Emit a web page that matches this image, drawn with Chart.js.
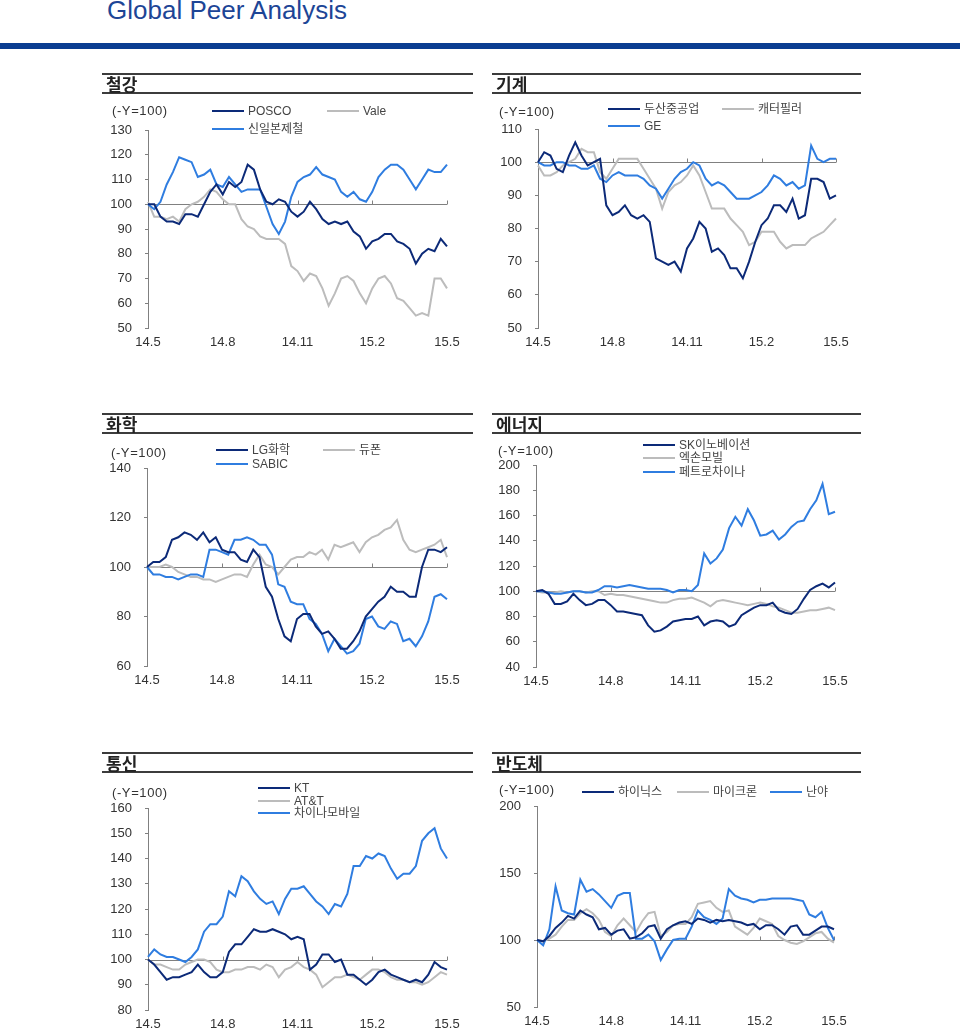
<!DOCTYPE html>
<html>
<head>
<meta charset="utf-8">
<script src="https://cdn.jsdelivr.net/npm/chart.js@4.4.0/dist/chart.umd.min.js"></script>
<style>
  body { margin: 0; width: 960px; height: 1031px; position: relative; background: #fff; overflow: hidden;
         font-family: 'Liberation Sans', 'Noto Sans CJK KR', sans-serif; color: #333; }
  .abs { position: absolute; white-space: nowrap; }
  #pageTitle { left: 107px; top: -3px; font-size: 26px; line-height: 26px; color: #1d4596; }
  #topBar { left: 0; top: 43px; width: 960px; height: 6px; background: #0b3d91; }
  .hline { height: 0; border-top: 2px solid #3c3c3c; }
  .ptitle { font-family: 'Noto Sans CJK KR', sans-serif; font-size: 17px; font-weight: 700; line-height: 18px; color: #222; }
  .unit { font-size: 13px; line-height: 16px; color: #333; letter-spacing: 0.6px; }
  .legline { height: 2px; }
  .legtext { font-size: 12px; line-height: 14px; color: #444; }
  canvas { position: absolute; }
</style>
</head>
<body>
<div id="pageTitle" class="abs">Global Peer Analysis</div>
<div id="topBar" class="abs"></div>
<script>
// x axis: weekly points from 14.5 to 15.5
const weekIndex = Array.from({ length: 49 }, (_, i) => i);
const tickLabels = ['14.5', '14.8', '14.11', '15.2', '15.5'];
const baseValue = 100;

// 철강
const steelNames = ['POSCO', '신일본제철', 'Vale'];
const poscoData = [100,100,95,93,93,92,96,96,95,100,105,108,104,109,107,109,116,114,106,101,100,102,101,97,95,97,101,98,94,92,93,92,93,89,87,82,85,86,88,88,85,84,82,76,80,82,81,86,83];
const nipponSteelData = [100,98,101,108,113,119,118,117,111,112,114,108,107,111,108,105,106,106,106,99,92,88,93,103,109,111,112,115,112,111,110,105,103,105,102,101,105,111,114,116,116,114,110,106,110,114,113,113,116];
const valeData = [101,95,95,94,95,93,98,100,101,103,106,105,102,100,100,94,91,90,87,86,86,86,84,75,73,69,72,71,66,59,64,70,71,69,64,60,66,70,71,68,62,61,58,55,56,55,70,70,66];

// 기계
const machineNames = ['두산중공업', 'GE', '캐터필러'];
const doosanData = [100,103,102,98,97,102,106,102,99,100,101,87,84,85,87,84,83,84,82,71,70,69,70,67,74,77,82,80,73,74,72,68,68,65,70,76,81,83,87,87,85,89,83,84,95,95,94,89,90];
const geData = [100,99,99,100,100,99,99,98,98,99,95,94,96,97,96,96,96,95,93,92,89,92,95,97,98,100,99,95,93,94,93,91,89,89,89,90,91,93,96,95,93,94,92,93,105,101,100,101,101];
const caterpillarData = [99,96,96,97,99,100,101,104,103,103,97,95,98,101,101,101,101,98,95,92,86,91,93,94,96,99,96,91,86,86,86,83,81,79,75,76,79,79,79,76,74,75,75,75,77,78,79,81,83];

// 화학
const chemNames = ['LG화학', 'SABIC', '듀폰'];
const lgChemData = [100,102,102,104,111,112,114,113,111,114,110,112,107,106,106,103,102,107,104,92,88,79,72,70,79,81,81,76,73,74,71,67,67,70,74,80,83,86,88,92,90,90,88,88,100,107,107,106,108];
const sabicData = [100,97,97,96,96,95,96,97,97,96,107,107,106,105,111,111,112,111,109,109,105,93,92,86,85,85,79,77,73,66,71,68,65,66,69,79,80,76,75,78,77,70,71,68,72,78,88,89,87];
const dupontData = [100,100,100,101,100,98,97,96,96,95,95,94,95,96,97,97,96,101,105,101,100,97,100,103,104,104,106,105,107,103,109,108,109,110,106,110,112,113,115,116,119,111,107,106,107,108,109,111,104];

// 에너지
const energyNames = ['SK이노베이션', '엑손모빌', '페트로차이나'];
const skInnoData = [100,101,98,90,90,92,98,93,89,90,93,93,89,84,84,83,82,81,73,68,69,72,76,77,78,78,80,73,76,77,76,72,74,81,84,87,89,89,91,85,83,82,86,94,101,104,106,103,107];
const exxonData = [100,99,99,99,100,99,100,100,99,100,100,97,98,97,97,96,95,94,93,92,91,91,93,94,94,95,93,91,88,92,93,92,91,90,89,90,91,90,88,87,85,83,83,84,85,85,86,87,85];
const petroChinaData = [100,100,99,98,98,99,100,100,99,99,101,104,104,103,104,105,104,103,102,102,102,101,99,101,101,100,105,130,122,126,133,150,159,152,165,156,144,145,148,141,145,151,155,156,165,172,185,161,163];

// 통신
const telecomNames = ['KT', 'AT&T', '차이나모바일'];
const ktData = [100,98,95,92,93,93,94,95,98,95,93,93,95,103,106,106,109,112,111,111,112,111,110,108,109,108,96,98,102,102,99,100,94,94,92,90,92,95,96,94,93,92,91,92,91,94,99,97,96];
const attData = [100,98,98,97,96,96,98,99,100,100,99,96,95,95,96,96,97,97,96,98,97,93,96,97,99,97,96,94,89,91,93,93,94,93,92,94,96,96,95,93,92,92,91,91,90,91,93,95,94];
const chinaMobileData = [101,104,102,101,101,100,99,101,104,111,114,114,117,127,125,133,131,127,124,122,123,118,124,128,128,129,126,123,121,118,122,121,126,137,137,141,140,142,141,136,132,134,134,137,147,150,152,144,140];

// 반도체
const semiNames = ['하이닉스', '마이크론', '난야'];
const hynixData = [100,99,103,109,113,118,116,122,119,117,108,109,104,107,108,101,102,105,110,111,101,108,111,113,114,112,116,115,113,115,114,115,114,113,111,112,108,111,111,108,104,110,111,104,104,107,110,110,108];
const micronData = [100,99,101,104,110,115,115,120,123,120,115,106,103,111,116,111,106,114,120,121,103,106,111,112,112,117,127,128,129,124,121,122,110,107,104,109,116,114,112,103,100,98,97,99,102,105,106,101,98];
const nanyaData = [100,96,108,140,122,120,119,145,136,138,134,129,124,133,135,135,101,101,104,99,85,93,100,101,101,110,122,117,115,112,116,138,133,131,130,128,130,130,131,131,131,131,130,129,119,117,121,109,100];

const DARK = '#0c2a78';
const BLUE = '#2f7de0';
const GRAY = '#bcbcbc';
const FONT = "'Liberation Sans', 'Noto Sans CJK KR', sans-serif";

Chart.defaults.font.family = FONT;

// layout of each panel (pixels on the page)
const panels = [
  { title: '철강', hx: 102, hw: 371, hy: 74, axisX: 148, right: 447, top: 130, bottom: 328, min: 50, max: 130, step: 10, unit: [112, 111],
    series: [
      { name: steelNames[0], data: poscoData, color: DARK, leg: [212, 111] },
      { name: steelNames[1], data: nipponSteelData, color: BLUE, leg: [212, 129] },
      { name: steelNames[2], data: valeData, color: GRAY, leg: [327, 111] }
    ] },
  { title: '기계', hx: 492, hw: 369, hy: 74, axisX: 538, right: 836, top: 129, bottom: 328, min: 50, max: 110, step: 10, unit: [499, 112],
    series: [
      { name: machineNames[0], data: doosanData, color: DARK, leg: [608, 109] },
      { name: machineNames[1], data: geData, color: BLUE, leg: [608, 126] },
      { name: machineNames[2], data: caterpillarData, color: GRAY, leg: [722, 109] }
    ] },
  { title: '화학', hx: 102, hw: 371, hy: 414, axisX: 147, right: 447, top: 468, bottom: 666, min: 60, max: 140, step: 20, unit: [111, 453],
    series: [
      { name: chemNames[0], data: lgChemData, color: DARK, leg: [216, 450] },
      { name: chemNames[1], data: sabicData, color: BLUE, leg: [216, 464] },
      { name: chemNames[2], data: dupontData, color: GRAY, leg: [323, 450] }
    ] },
  { title: '에너지', hx: 492, hw: 369, hy: 414, axisX: 536, right: 835, top: 465, bottom: 667, min: 40, max: 200, step: 20, unit: [498, 451],
    series: [
      { name: energyNames[0], data: skInnoData, color: DARK, leg: [643, 445] },
      { name: energyNames[2], data: petroChinaData, color: BLUE, leg: [643, 472] },
      { name: energyNames[1], data: exxonData, color: GRAY, leg: [643, 458] }
    ] },
  { title: '통신', hx: 102, hw: 371, hy: 753, axisX: 148, right: 447, top: 808, bottom: 1010, min: 80, max: 160, step: 10, unit: [112, 793],
    series: [
      { name: telecomNames[0], data: ktData, color: DARK, leg: [258, 788] },
      { name: telecomNames[2], data: chinaMobileData, color: BLUE, leg: [258, 813] },
      { name: telecomNames[1], data: attData, color: GRAY, leg: [258, 801] }
    ] },
  { title: '반도체', hx: 492, hw: 369, hy: 753, axisX: 537, right: 834, top: 806, bottom: 1007, min: 50, max: 200, step: 50, unit: [499, 790],
    series: [
      { name: semiNames[0], data: hynixData, color: DARK, leg: [582, 792] },
      { name: semiNames[2], data: nanyaData, color: BLUE, leg: [770, 792] },
      { name: semiNames[1], data: micronData, color: GRAY, leg: [677, 792] }
    ] }
];

// gray line at 100 with small tick marks, like the category axis crossing there
const baseLinePlugin = {
  id: 'baseLine',
  beforeDatasetsDraw(chart) {
    const { ctx, chartArea, scales: { x, y } } = chart;
    const py = Math.round(y.getPixelForValue(baseValue)) + 0.5;
    ctx.save();
    ctx.strokeStyle = '#808080';
    ctx.lineWidth = 1;
    ctx.beginPath();
    ctx.moveTo(chartArea.left, py);
    ctx.lineTo(chartArea.right, py);
    for (let i = 12; i < weekIndex.length; i += 12) {
      const px = Math.round(x.getPixelForValue(i)) + 0.5;
      ctx.moveTo(px, py);
      ctx.lineTo(px, py - 4);
    }
    ctx.stroke();
    ctx.restore();
  }
};

function addDiv(cls, left, top, text, extra) {
  const d = document.createElement('div');
  d.className = 'abs ' + cls;
  d.style.left = left + 'px';
  d.style.top = top + 'px';
  if (text) d.textContent = text;
  if (extra) Object.assign(d.style, extra);
  document.body.appendChild(d);
  return d;
}

function makePanel(p) {
  // y tick padding is added to the axis top padding by Chart.js, so keep padTop above it
  const yAxisW = 48, xAxisH = 26, padTop = 24, padRight = 22;
  const left = p.axisX - yAxisW;
  const top = p.top - padTop;
  const w = p.right - left + padRight;
  const h = p.bottom - top + xAxisH;

  const canvas = document.createElement('canvas');
  canvas.width = w;
  canvas.height = h;
  canvas.style.left = left + 'px';
  canvas.style.top = top + 'px';
  canvas.style.width = w + 'px';
  canvas.style.height = h + 'px';
  document.body.appendChild(canvas);

  new Chart(canvas.getContext('2d'), {
    type: 'line',
    data: {
      labels: weekIndex,
      datasets: p.series.map(s => ({
        label: s.name,
        data: s.data,
        borderColor: s.color,
        borderWidth: 2,
        pointRadius: 0,
        fill: false,
        tension: 0
      }))
    },
    options: {
      responsive: false,
      animation: false,
      layout: { padding: { top: padTop, right: padRight, left: 0, bottom: 0 } },
      plugins: { legend: { display: false }, tooltip: { enabled: false } },
      scales: {
        x: {
          type: 'category',
          offset: false,
          grid: { display: false, drawTicks: false },
          border: { display: false },
          ticks: {
            autoSkip: false,
            maxRotation: 0,
            padding: 7,
            color: '#333',
            font: { size: 13 },
            callback: (val, idx) => (idx % 12 === 0 ? tickLabels[idx / 12] : null)
          },
          afterFit: s => { s.height = xAxisH; }
        },
        y: {
          min: p.min,
          max: p.max,
          grid: { drawOnChartArea: false, drawTicks: true, tickLength: 3, color: '#808080' },
          border: { display: true, color: '#808080', width: 1 },
          ticks: { stepSize: p.step, padding: 13, color: '#333', font: { size: 13 } },
          afterFit: s => { s.width = yAxisW; }
        }
      }
    },
    plugins: [baseLinePlugin]
  });

  // header with two rules
  addDiv('hline', p.hx, p.hy - 1, '', { width: p.hw + 'px' });
  addDiv('hline', p.hx, p.hy + 18, '', { width: p.hw + 'px' });
  addDiv('ptitle', p.hx + 4, p.hy + 1, p.title);
  addDiv('unit', p.unit[0], p.unit[1] - 8, '(-Y=100)');

  // legend
  p.series.forEach(s => {
    addDiv('legline', s.leg[0], s.leg[1] - 1, '', { width: '32px', background: s.color });
    addDiv('legtext', s.leg[0] + 36, s.leg[1] - 7, s.name);
  });
}

panels.forEach(makePanel);
</script>
</body>
</html>
